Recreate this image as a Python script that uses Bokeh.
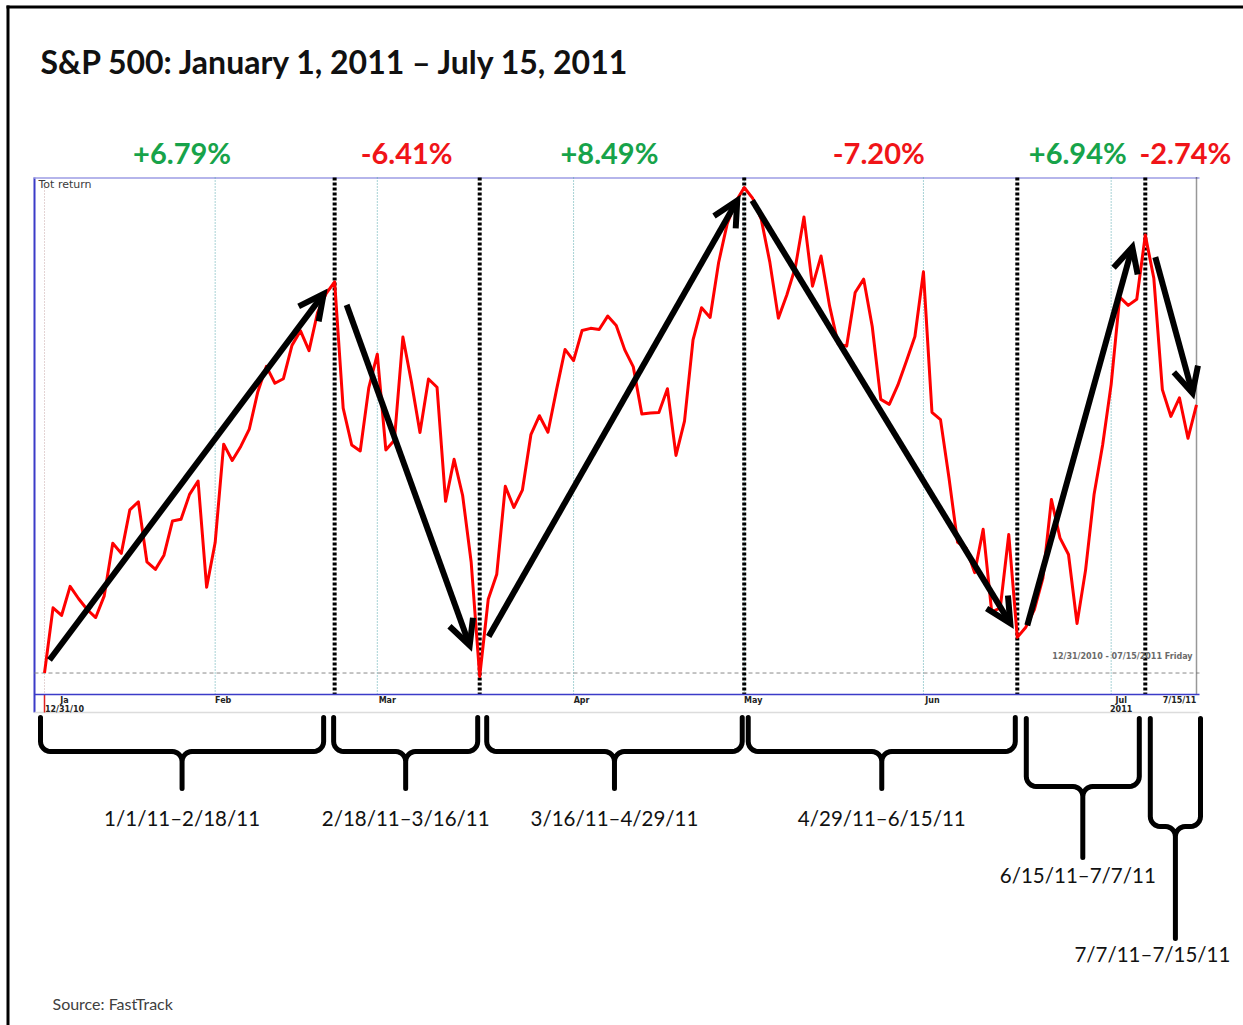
import numpy as np
import pandas as pd
from bokeh.plotting import figure
from bokeh.models import Range1d, LinearAxis, FixedTicker, Arrow, OpenHead
from bokeh.core.properties import value
from bokeh.embed import file_html
from bokeh.resources import INLINE

# ---------------- data ----------------
TITLE = "S&P 500: January 1, 2011 \u2013 July 15, 2011"
SOURCE = "Source: FastTrack"
HOLIDAYS = ["2011-01-17", "2011-02-21", "2011-04-22", "2011-05-30", "2011-07-04"]
DATES = pd.bdate_range("2010-12-31", "2011-07-15", freq="C", holidays=HOLIDAYS)

CLOSE = [
    1257.64,
    # Jan
    1271.87, 1270.20, 1276.56, 1273.85, 1271.50, 1269.75, 1274.48, 1285.96, 1283.76, 1293.24,
    1295.02, 1281.92, 1280.26, 1283.35, 1290.84, 1291.18, 1296.63, 1299.54, 1276.34, 1286.12,
    # Feb
    1307.59, 1304.03, 1307.10, 1310.87, 1319.05, 1324.57, 1320.88, 1321.87, 1329.15, 1332.32,
    1328.01, 1336.32, 1340.43, 1343.01, 1315.44, 1307.40, 1306.10, 1319.88, 1327.22,
    # Mar
    1306.33, 1308.44, 1330.97, 1321.15, 1310.13, 1321.82, 1320.02, 1295.11, 1304.28, 1296.39,
    1281.87, 1256.88, 1273.72, 1279.21, 1298.38, 1293.77, 1297.54, 1309.66, 1313.80, 1310.19,
    1319.44, 1328.26, 1325.83,
    # Apr
    1332.41, 1332.87, 1332.63, 1335.54, 1333.51, 1328.17, 1324.46, 1314.16, 1314.41, 1314.52,
    1319.68, 1305.14, 1312.62, 1330.36, 1337.38, 1335.25, 1347.24, 1355.66, 1360.48, 1363.61,
    # May
    1361.22, 1356.62, 1347.32, 1335.10, 1340.20, 1346.29, 1357.16, 1342.08, 1348.65, 1337.77,
    1329.47, 1328.98, 1340.68, 1343.60, 1333.27, 1317.37, 1316.28, 1320.47, 1325.69, 1331.10,
    1345.20,
    # Jun
    1314.55, 1312.94, 1300.16, 1286.17, 1284.94, 1279.56, 1289.00, 1270.98, 1271.83, 1287.87,
    1265.42, 1267.64, 1271.50, 1278.36, 1295.52, 1287.14, 1283.50, 1268.45, 1280.10, 1296.67,
    1307.41, 1320.64,
    # Jul
    1339.67, 1337.88, 1339.22, 1353.22, 1343.80, 1319.49, 1313.64, 1317.72, 1308.87, 1316.14,
]

PERIOD_DATES = ["2010-12-31", "2011-02-18", "2011-03-16", "2011-04-29",
                "2011-06-15", "2011-07-07", "2011-07-15"]
PCT_LABELS = ["+6.79%", "-6.41%", "+8.49%", "-7.20%", "+6.94%", "-2.74%"]
RANGE_LABELS = ["1/1/11\u20132/18/11", "2/18/11\u20133/16/11", "3/16/11\u20134/29/11",
                "4/29/11\u20136/15/11", "6/15/11\u20137/7/11", "7/7/11\u20137/15/11"]
MONTH_TICK_DATES = ["2010-12-31", "2011-01-31", "2011-02-28", "2011-03-31",
                    "2011-04-29", "2011-05-31", "2011-06-30"]
MONTH_TICK_LABELS = ["Ja\n12/31/10", "Feb", "Mar", "Apr", "May", "Jun", "Jul\n2011"]
END_TICK_LABEL = "7/15/11"
TOP_LEFT_NOTE = "Tot return"
RANGE_NOTE = "12/31/2010 - 07/15/2011 Friday"

# ---------------- layout / style ----------------
W, H = 1243, 1025
X_FIRST_PX, X_LAST_PX = 44, 1196
Y_MAX_PX, Y_MIN_PX = 187, 676
BOX_L, BOX_R, BOX_T, BOX_B, BAND_B = 34, 1199, 177, 694, 712
BASELINE_FIX = 0.45          # em; compensates text baseline placement

GREEN, RED = "#17A34A", "#F01418"
PCT_COLORS = [GREEN, RED, GREEN, RED, GREEN, RED]
PCT_DX = [0, 1, -5, -3, -5, 10]
ARROW_OFFSETS = [((5, -13), (-11, 12)), ((12, 23), (-10, -31)), ((9, -40), (-7, 13)),
                 ((8, 13), (-7, -14)), ((10, -12), (-13, 12)), ((10, 22), (-4, -12))]
BRACE_INSETS = [(-4, 11), (-1, 2), (7, 2), (4, 2), (9, 6), (5, -4)]
BRACE_LEVELS = [(717, 751, 788)] * 4 + [(718, 786, 857), (718, 826, 938)]
LABEL_BASE_PX = [827, 827, 827, 827, 884, 963]
LABEL_DX = [0, 0, 0, 0, -5, -23]
TICK_LABEL_SHIFT_PX = [20, 8, 10, 8, 9, 9, 10]   # labels sit to the right of their gridline
END_LABEL_SHIFT_PX = -17                         # end label sits left of the last day

n = len(CLOSE)
assert len(DATES) == n
idx = {d.strftime("%Y-%m-%d"): i for i, d in enumerate(DATES)}
xs = np.arange(n)

sx = (X_LAST_PX - X_FIRST_PX) / (n - 1)
x_start = -X_FIRST_PX / sx
x_end = (n - 1) + (W - X_LAST_PX) / sx
vmax, vmin = max(CLOSE), min(CLOSE)
sy = (Y_MIN_PX - Y_MAX_PX) / (vmax - vmin)
y_end = vmax + Y_MAX_PX / sy
y_start = vmin - (H - Y_MIN_PX) / sy


def dx(px):
    return x_start + px / sx


def dy(py):
    return y_end - py / sy


def to_px(i):
    return (i - x_start) * sx


def to_py(v):
    return (y_end - v) * sy


def ty(base_px, size):
    return dy(base_px - BASELINE_FIX * size)


p = figure(width=W, height=H, x_range=Range1d(x_start, x_end), y_range=Range1d(y_start, y_end),
           x_axis_type=None, y_axis_type=None, toolbar_location=None, output_backend="svg",
           min_border=0, outline_line_color=None, background_fill_color="white",
           border_fill_color="white")
p.grid.visible = False

# outer frame (left and top)
p.segment(x0=[dx(7.5), dx(6)], y0=[dy(5), dy(6.5)], x1=[dx(7.5), dx(W)], y1=[dy(H), dy(6.5)],
          line_color="black", line_width=3)

# chart box
p.segment(x0=[dx(BOX_L)], y0=[dy(BOX_T)], x1=[dx(BOX_L)], y1=[dy(BAND_B)],
          line_color="#3B3BC8", line_width=2)
p.segment(x0=[dx(BOX_L - 1)], y0=[dy(BOX_T + 0.5)], x1=[dx(BOX_R)], y1=[dy(BOX_T + 0.5)],
          line_color="#9C9CE4", line_width=1.5)
p.segment(x0=[dx(BOX_L)], y0=[dy(BAND_B)], x1=[dx(BOX_R)], y1=[dy(BAND_B)],
          line_color="#DCDCDC", line_width=1.5)

# month gridlines
month_ticks = [idx[d] for d in MONTH_TICK_DATES]
grid_x = month_ticks[1:]
p.segment(x0=grid_x, y0=[dy(BOX_T)] * len(grid_x), x1=grid_x, y1=[dy(BOX_B)] * len(grid_x),
          line_color="#4FA5AA", line_width=1, line_dash="1 2")
p.segment(x0=[0], y0=[dy(BOX_T + 10)], x1=[0], y1=[dy(BOX_B)],
          line_color="#C9A9A9", line_width=1, line_dash="1 2")
p.segment(x0=[0], y0=[dy(BOX_B)], x1=[0], y1=[dy(BAND_B)], line_color="#E02020", line_width=1.5)

# baseline at starting value
p.segment(x0=[dx(BOX_L)], y0=[CLOSE[0]], x1=[dx(BOX_R)], y1=[CLOSE[0]],
          line_color="#8A8A8A", line_width=1, line_dash="4 3")

# period boundaries
bounds = [idx[d] for d in PERIOD_DATES]
inner = bounds[1:-1]
p.segment(x0=inner, y0=[dy(BOX_T)] * len(inner), x1=inner, y1=[dy(BOX_B)] * len(inner),
          line_color="black", line_width=4, line_dash="3 2")
p.segment(x0=[bounds[-1]], y0=[dy(BOX_T)], x1=[bounds[-1]], y1=[dy(BOX_B)],
          line_color="#333333", line_width=1.5, line_dash="1 1")

# index line
p.line(x=xs, y=CLOSE, line_color="#FF0000", line_width=3, line_join="round")

# axis (month labels) fixed at bottom of the box
label_ticks = [round(t + s / sx, 4) for t, s in zip(month_ticks, TICK_LABEL_SHIFT_PX)]
axis_style = dict(major_tick_line_color=None, minor_tick_line_color=None,
                  major_tick_in=0, major_tick_out=0, minor_tick_in=0, minor_tick_out=0,
                  major_label_standoff=1, major_label_text_font="DejaVu Sans",
                  major_label_text_font_style="bold", major_label_text_font_size="8px",
                  major_label_text_color="#222222", major_label_text_line_height=1.0)
ax = LinearAxis(fixed_location=dy(BOX_B), ticker=FixedTicker(ticks=label_ticks),
                major_label_overrides={t: l for t, l in zip(label_ticks, MONTH_TICK_LABELS)},
                bounds=(dx(BOX_L), dx(BOX_R)), axis_line_color="#3B3BC8", axis_line_width=1.5,
                **axis_style)
p.add_layout(ax, "below")
end_tick = round((n - 1) + END_LABEL_SHIFT_PX / sx, 4)
ax2 = LinearAxis(fixed_location=dy(BOX_B), ticker=FixedTicker(ticks=[end_tick]),
                 major_label_overrides={end_tick: END_TICK_LABEL},
                 axis_line_color=None, **axis_style)
p.add_layout(ax2, "below")

# small notes inside box
p.text(x=[dx(38)], y=[ty(189, 11)], text=[TOP_LEFT_NOTE], text_font=value("DejaVu Sans"),
       text_font_size="11px", text_color="#3A3A3A", text_align="left", text_baseline="alphabetic")
p.text(x=[dx(1192)], y=[ty(660, 8)], text=[RANGE_NOTE], text_font=value("DejaVu Sans"),
       text_font_size="8px", text_font_style="bold", text_color="#6A6A6A",
       text_align="right", text_baseline="alphabetic")

# arrows
for k in range(len(bounds) - 1):
    i0, i1 = bounds[k], bounds[k + 1]
    (ox, oy), (ex, ey) = ARROW_OFFSETS[k]
    ax0, ay0 = to_px(i0) + ox, to_py(CLOSE[i0]) + oy
    ax1, ay1 = to_px(i1) + ex, to_py(CLOSE[i1]) + ey
    p.add_layout(Arrow(x_start=dx(ax0), y_start=dy(ay0), x_end=dx(ax1), y_end=dy(ay1),
                       line_color="black", line_width=6, line_cap="butt",
                       end=OpenHead(size=25, line_width=6, line_color="black",
                                    line_join="miter")))


# braces
def brace_points(L, R, y0, yh, yb, r=10, r2=10):
    C = (L + R) / 2
    pts = [(L, y0), (L, yh - r)]
    for t in np.linspace(0, np.pi / 2, 7)[1:]:
        pts.append((L + r - r * np.cos(t), yh - r + r * np.sin(t)))
    pts.append((C - r2, yh))
    for t in np.linspace(0, np.pi / 2, 7)[1:]:
        pts.append((C - r2 + r2 * np.sin(t), yh + r2 - r2 * np.cos(t)))
    pts.append((C, yb))
    pts.append((C, yh + r2))
    for t in np.linspace(np.pi / 2, 0, 7)[1:]:
        pts.append((C + r2 - r2 * np.sin(t), yh + r2 - r2 * np.cos(t)))
    pts.append((R - r, yh))
    for t in np.linspace(0, np.pi / 2, 7)[1:]:
        pts.append((R - r + r * np.sin(t), yh - r + r * np.cos(t)))
    pts.append((R, y0))
    return pts, C


bxs, bys, centers = [], [], []
for k in range(len(bounds) - 1):
    L = to_px(bounds[k]) + BRACE_INSETS[k][0]
    R = to_px(bounds[k + 1]) - BRACE_INSETS[k][1]
    y0, yh, yb = BRACE_LEVELS[k]
    pts, C = brace_points(L, R, y0, yh, yb)
    bxs.append([dx(a) for a, b in pts])
    bys.append([dy(b) for a, b in pts])
    centers.append(C)
p.multi_line(xs=bxs, ys=bys, line_color="black", line_width=5, line_join="round", line_cap="round")

# range labels
p.text(x=[dx(c + d) for c, d in zip(centers, LABEL_DX)], y=[ty(b, 20.5) for b in LABEL_BASE_PX],
       text=RANGE_LABELS, text_font=value("Lato"), text_font_size="20.5px", text_color="#111111",
       text_align="center", text_baseline="alphabetic")

# percentage labels
p.text(x=[dx(c + d) for c, d in zip(centers, PCT_DX)], y=[ty(165, 29)] * len(PCT_LABELS),
       text=PCT_LABELS, text_font=value("Lato"), text_font_size="29px", text_font_style="bold",
       text_color=PCT_COLORS, text_align="center", text_baseline="alphabetic")

# title and source
p.text(x=[dx(40)], y=[ty(75, 32)], text=[TITLE], text_font=value("Lato"), text_font_size="32px",
       text_font_style="bold", text_color="#111111", text_align="left", text_baseline="alphabetic")
p.text(x=[dx(52)], y=[ty(1010, 16)], text=[SOURCE], text_font=value("Lato"), text_font_size="16px",
       text_color="#404040", text_align="left", text_baseline="alphabetic")

open("out.html", "w").write(file_html(p, INLINE))
